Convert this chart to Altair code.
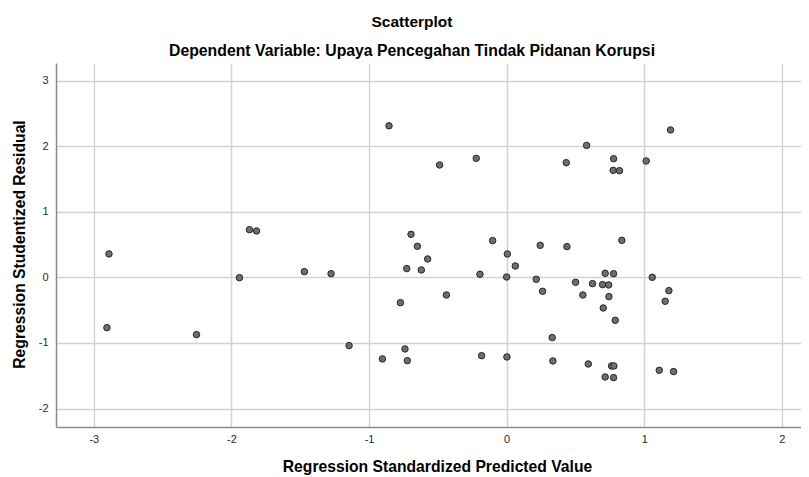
import altair as alt
import pandas as pd

# Regression Standardized Predicted Value (x) and Studentized Residual (y)
pred = [-0.855, -1.869, -1.818, -0.487, -0.221, 0.433, 0.581, 0.777, 0.774, 0.820,
        1.014, 1.191, -2.890, -2.905, -2.254, -1.942, -1.470, -1.276, -1.145, -0.903,
        -0.695, -0.649, -0.574, -0.726, -0.620, -0.102, 0.005, 0.063, -0.194, 0.000,
        -0.438, -0.772, 0.244, 0.438, 0.837, 0.215, 0.261, 0.501, 0.554, 0.624,
        0.716, 0.777, 0.697, 0.741, 0.743, 0.702, 0.789, 1.058, 1.179, 1.152,
        0.331, -0.739, -0.722, -0.182, 0.002, 0.336, 0.593, 0.762, 0.779, 0.716,
        0.777, 1.109, 1.213]
resid = [2.310, 0.727, 0.707, 1.713, 1.814, 1.748, 2.012, 1.809, 1.631, 1.626,
         1.774, 2.247, 0.357, -0.767, -0.873, -0.005, 0.087, 0.056, -1.041, -1.244,
         0.656, 0.473, 0.280, 0.133, 0.113, 0.560, 0.356, 0.173, 0.046, 0.005,
         -0.269, -0.386, 0.488, 0.468, 0.564, -0.030, -0.213, -0.076, -0.269, -0.096,
         0.061, 0.056, -0.111, -0.116, -0.294, -0.467, -0.655, 0.000, -0.203, -0.365,
         -0.919, -1.092, -1.270, -1.194, -1.214, -1.275, -1.321, -1.351, -1.351, -1.519,
         -1.529, -1.417, -1.437]

x_ticks = [-3, -2, -1, 0, 1, 2]
y_ticks = [-2, -1, 0, 1, 2, 3]

TITLE = "Scatterplot"
SUBTITLE = "Dependent Variable: Upaya Pencegahan Tindak Pidanan Korupsi"
X_TITLE = "Regression Standardized Predicted Value"
Y_TITLE = "Regression Studentized Residual"

FONT = "Liberation Sans"
W, H = 745, 364

df = pd.DataFrame({"pred": pred, "resid": resid})

points = alt.Chart(df).mark_circle(
    size=42, color="#6e6e6e", opacity=1, stroke="#262626", strokeWidth=1
).encode(
    x=alt.X(
        "pred:Q",
        scale=alt.Scale(domain=[-3.275, 2.139], nice=False, zero=False),
        axis=alt.Axis(
            values=x_ticks, labelExpr="toString(datum.value)", title=X_TITLE,
            titleX=381, titleY=44.5, titleBaseline="alphabetic", titleAlign="center",
            labelPadding=6,
        ),
    ),
    y=alt.Y(
        "resid:Q",
        scale=alt.Scale(domain=[-2.282, 3.268], nice=False, zero=False),
        axis=alt.Axis(
            values=y_ticks, labelExpr="toString(datum.value)", title=Y_TITLE,
            titleX=-32, titleY=181, titleBaseline="alphabetic", titleAlign="center",
            titleAngle=-90, labelPadding=8,
        ),
    ),
)

title_layer = alt.Chart(pd.DataFrame({"t": [TITLE]})).mark_text(
    font=FONT, fontSize=15.5, fontWeight="bold", color="#000000",
    align="center", baseline="alphabetic",
).encode(text="t:N", x=alt.value(356), y=alt.value(-36.5))

subtitle_layer = alt.Chart(pd.DataFrame({"t": [SUBTITLE]})).mark_text(
    font=FONT, fontSize=15.8, fontWeight="bold", color="#000000",
    align="center", baseline="alphabetic",
).encode(text="t:N", x=alt.value(356), y=alt.value(-7.5))

chart = alt.layer(points, title_layer, subtitle_layer).properties(
    width=W, height=H,
    autosize=alt.AutoSizeParams(type="none"),
    padding={"left": 48, "top": 55, "right": 0, "bottom": 50},
).configure_view(
    stroke=None
).configure_axis(
    grid=True, gridColor="#d2d2d2", gridWidth=1.5,
    domain=True, domainColor="#8a8a8a", domainWidth=1.5,
    ticks=False, tickSize=0,
    labelFont=FONT, labelFontSize=11, labelColor="#2a2a2a",
    titleFont=FONT, titleFontSize=15.7, titleFontWeight="bold", titleColor="#000000",
)

chart.save("out.html", embed_options={"renderer": "svg", "actions": False})
